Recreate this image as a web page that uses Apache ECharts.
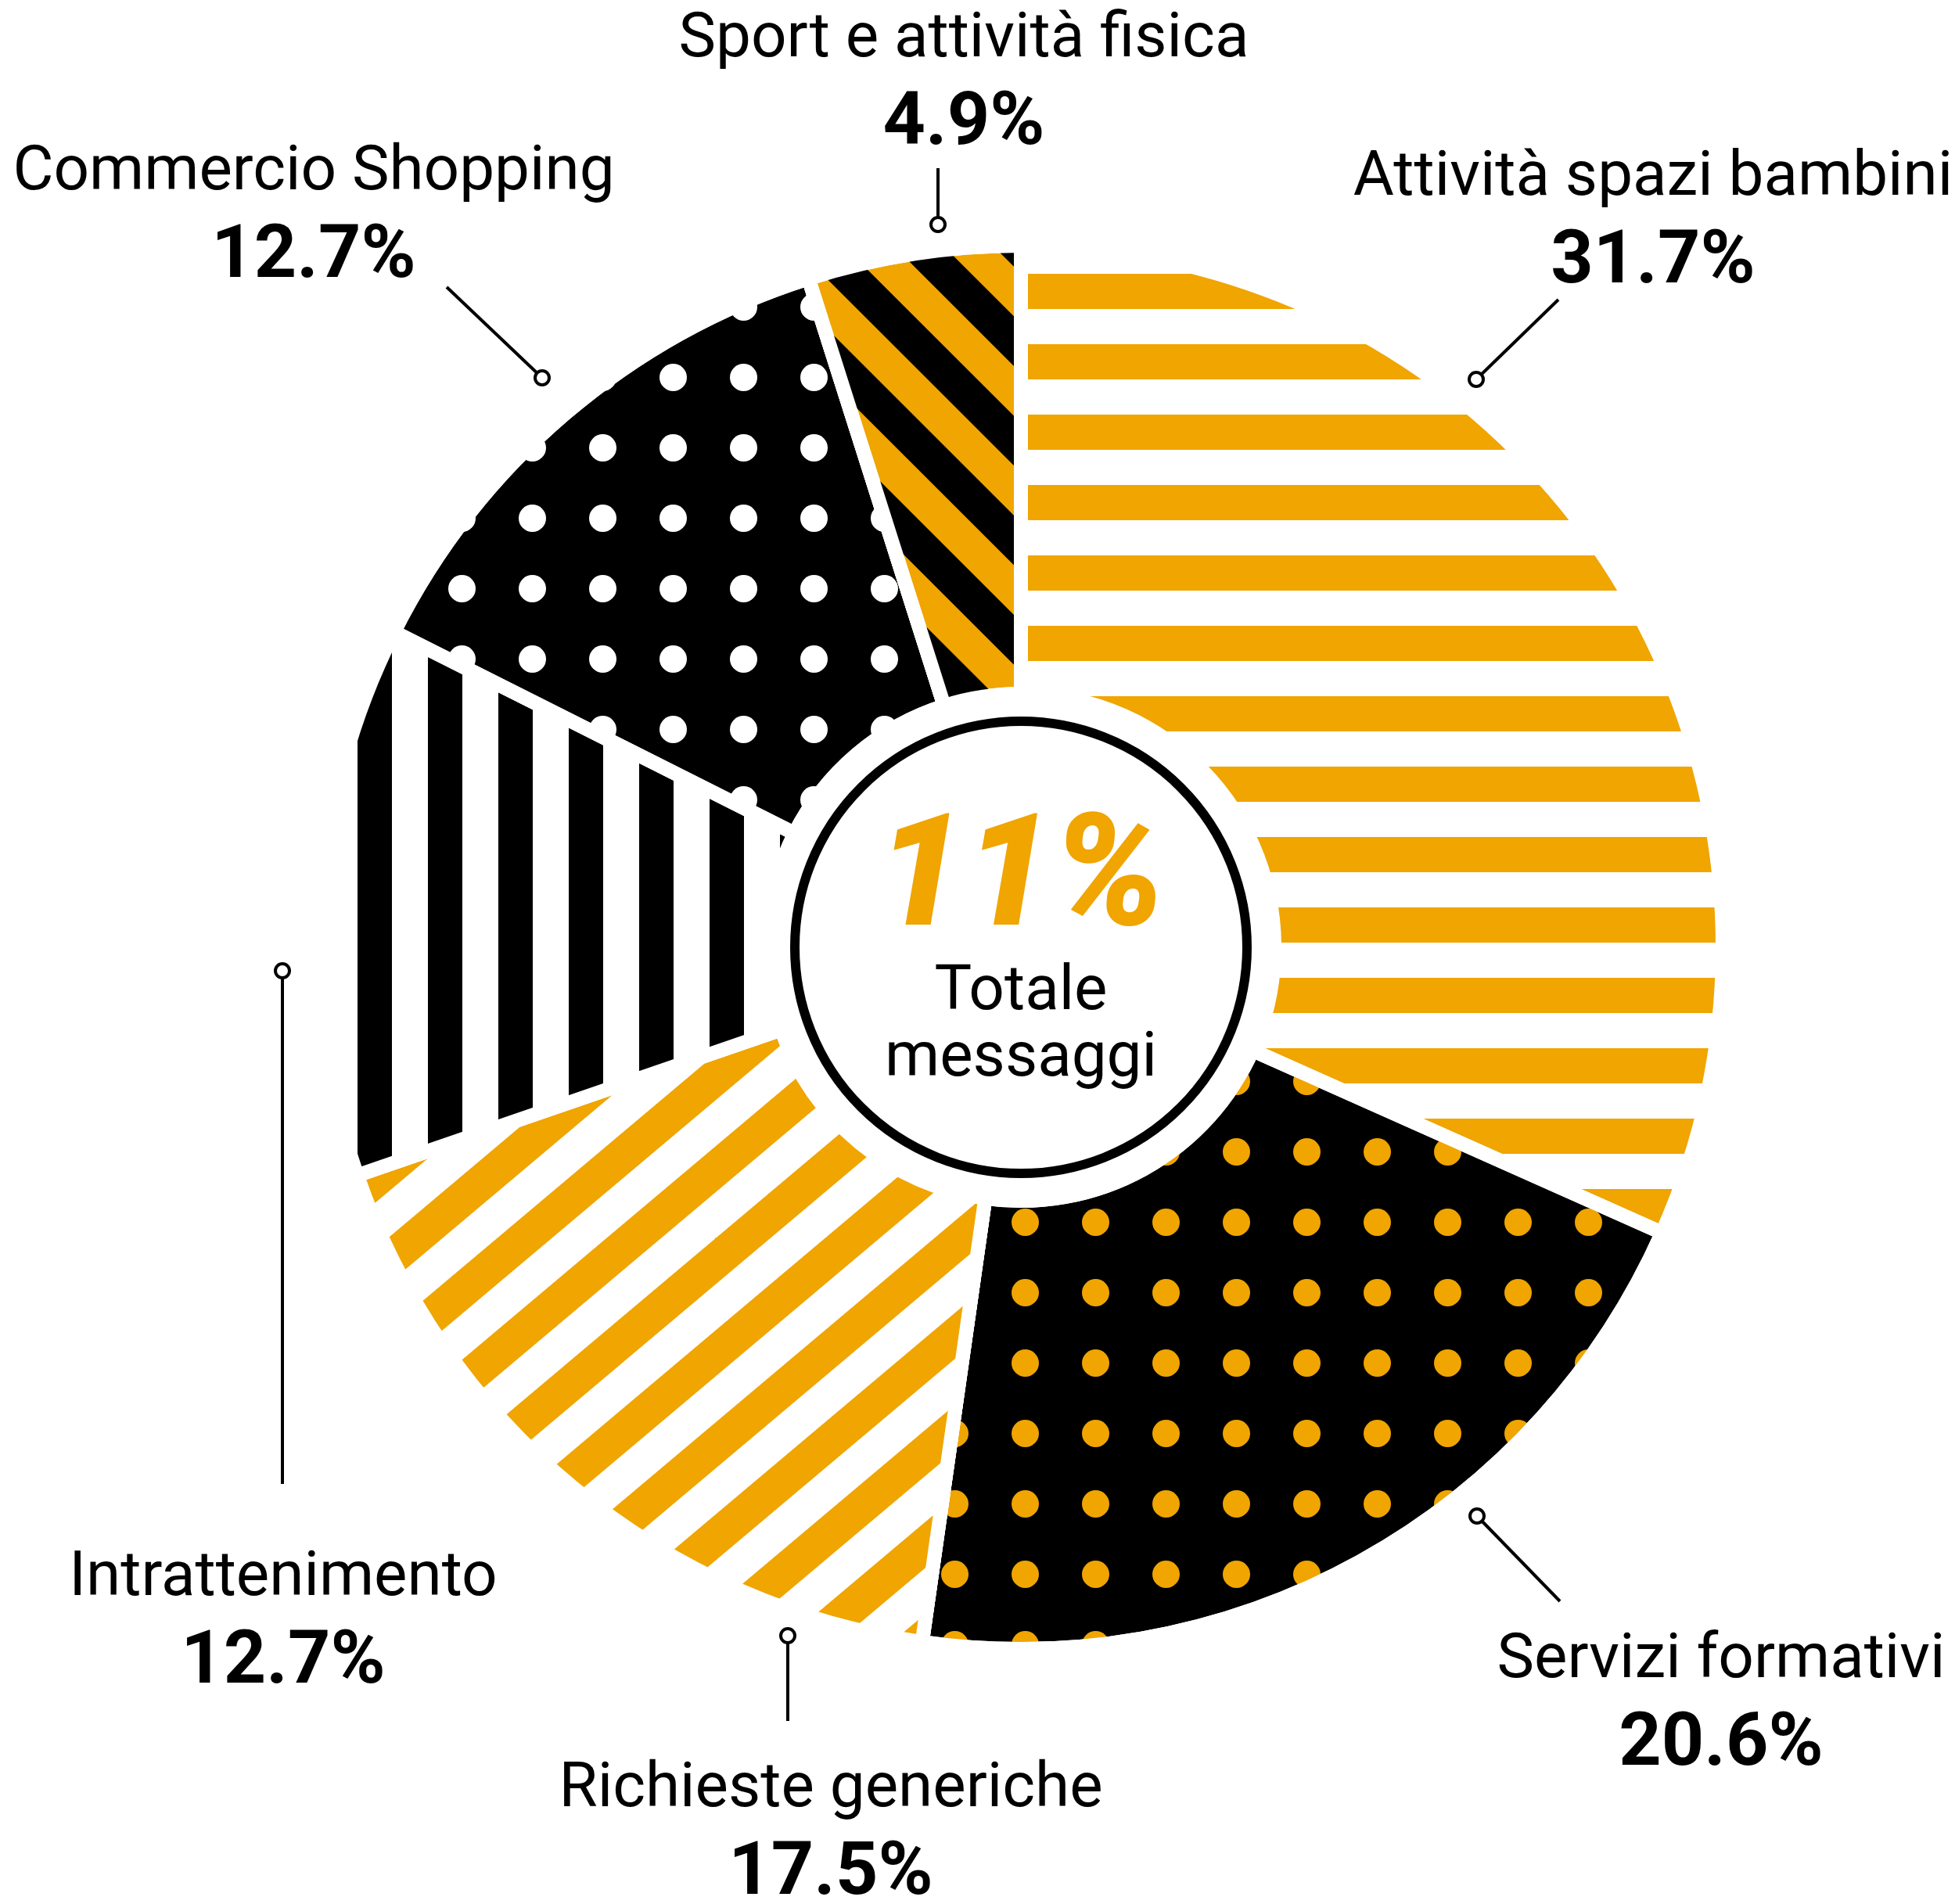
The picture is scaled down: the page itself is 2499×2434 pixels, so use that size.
<!DOCTYPE html>
<html><head><meta charset="utf-8">
<script src="https://cdn.jsdelivr.net/npm/echarts@6/dist/echarts.min.js"></script>
<style>html,body{margin:0;padding:0;background:#fff}#chart{width:2499px;height:2434px}</style>
</head><body><div id="chart"></div>
<script>
// ---- data ----
const categories = ['Attività spazi bambini', 'Servizi formativi', 'Richieste generiche', 'Intrattenimento', 'Commercio Shopping', 'Sport e attività fisica'];
const shares = [31.7, 20.6, 17.5, 12.7, 12.7, 4.9];
const totalShare = 11;
const totalLabelLines = ['Totale', 'messaggi'];

// ---- layout / style ----
const ORANGE = '#F0A500', BLACK = '#000000', WHITE = '#FFFFFF';
const CX = 1305, CY = 1211;
const labelPos = [[2113, 283], [2200, 2178], [1062, 2343], [362, 2073], [401, 276], [1232, 106]];
const leaders = [[1887, 485, 1992, 383], [1888, 1938, 1994, 2047], [1007, 2091, 1007, 2200], [361, 1241, 361, 1897], [693, 483, 571, 367], [1199, 287, 1199, 215]];
const sliceStyles = [
  { bg: WHITE, decal: { color: ORANGE, symbol: 'rect', dashArrayX: [1, 0], dashArrayY: [35, 45, 10, 0] } },
  { bg: BLACK, decal: { color: ORANGE, symbol: 'circle', dashArrayX: [0, 33, 35, 22], dashArrayY: [0, 15, 35, 40] } },
  { bg: WHITE, decal: { color: ORANGE, symbol: 'rect', dashArrayX: [1, 0], dashArrayY: [45, 45], rotation: -0.70 } },
  { bg: WHITE, decal: { color: BLACK, symbol: 'rect', dashArrayX: [0, 7, 44, 39], dashArrayY: [1, 0] } },
  { bg: BLACK, decal: { color: WHITE, symbol: 'circle', dashArrayX: [0, 33, 35, 22], dashArrayY: [0, 15, 35, 40] } },
  { bg: ORANGE, decal: { color: BLACK, symbol: 'rect', dashArrayX: [1, 0], dashArrayY: [45, 45], rotation: 0.785 } }
];

const chart = echarts.init(document.getElementById('chart'), null, { renderer: 'canvas' });

const graphics = [];
leaders.forEach(l => {
  graphics.push({ type: 'line', shape: { x1: l[0], y1: l[1], x2: l[2], y2: l[3] }, style: { stroke: BLACK, lineWidth: 4 }, z: 10 });
  graphics.push({ type: 'circle', shape: { cx: l[0], cy: l[1], r: 9 }, style: { fill: WHITE, stroke: BLACK, lineWidth: 4 }, z: 11 });
});

chart.setOption({
  backgroundColor: WHITE,
  animation: false,
  graphic: graphics,
  series: [
    {
      type: 'pie',
      center: [CX, CY],
      radius: [324, 897],
      startAngle: 90,
      clockwise: true,
      silent: true,
      avoidLabelOverlap: false,
      itemStyle: { borderColor: WHITE, borderWidth: 18 },
      label: {
        show: true,
        position: 'outside',
        formatter: p => '{n|' + p.name + '}\n{v|' + p.value.toFixed(1) + '%}',
        rich: {
          n: { fontFamily: 'Roboto', fontSize: 80, lineHeight: 108, color: BLACK },
          v: { fontFamily: 'Roboto', fontWeight: 'bold', fontSize: 95, lineHeight: 108, color: BLACK }
        }
      },
      labelLine: { show: false },
      labelLayout: params => {
        const p = labelPos[params.dataIndex];
        return { x: p[0], y: p[1], align: 'center', verticalAlign: 'middle' };
      },
      data: categories.map((name, i) => ({
        name: name,
        value: shares[i],
        itemStyle: { color: sliceStyles[i].bg, decal: sliceStyles[i].decal }
      }))
    },
    {
      type: 'pie',
      center: [CX, CY],
      radius: [0, 289],
      silent: true,
      itemStyle: { color: WHITE, borderColor: BLACK, borderWidth: 12 },
      label: {
        show: true,
        position: 'center',
        padding: [12, 0, 0, 0],
        formatter: p => '{big|' + p.value + '%}\n{sub|' + totalLabelLines[0] + '}\n{sub|' + totalLabelLines[1] + '}',
        rich: {
          big: { fontFamily: 'Roboto', fontWeight: 900, fontStyle: 'italic', fontSize: 200, lineHeight: 191, color: ORANGE },
          sub: { fontFamily: 'Roboto', fontSize: 80, lineHeight: 85, color: BLACK }
        }
      },
      labelLine: { show: false },
      data: [{ name: 'Totale messaggi', value: totalShare }]
    }
  ]
});
</script>
</body></html>
